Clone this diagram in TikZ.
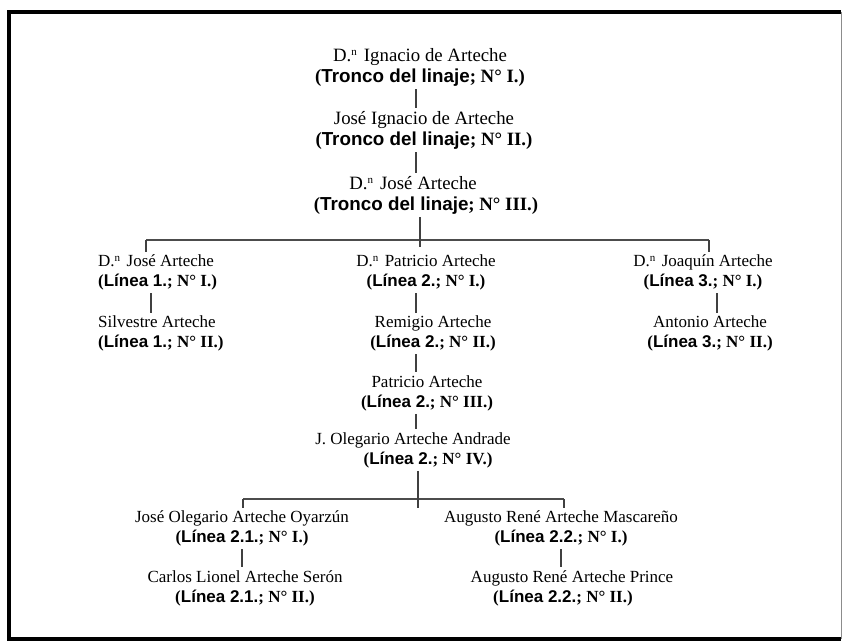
\documentclass[tikz,border=0pt]{standalone}
\usepackage{fontspec}
\setmainfont{Liberation Serif}
\newfontfamily\arialf{Liberation Sans}
\newcommand{\lin}[2]{\textbf{(}{\arialf\bfseries #1}\textbf{; N° #2)}}
\newcommand{\Dn}{D.\raisebox{0.6ex}{\fontsize{11}{11}\selectfont n}\hspace{0.38em}}
\begin{document}
\begin{tikzpicture}[x=1pt,y=-1pt,
  person/.style={align=center, inner sep=3pt, font=\fontsize{17}{20}\selectfont},
  trunk/.style={person, font=\fontsize{18.8}{21}\selectfont},
  personl/.style={person, align=left, anchor=west},
  link/.style={line width=1.5pt, draw=black!75},
  bar/.style={line width=1.6pt, draw=black!70},
  frame/.style={line width=3.5pt, draw=black}]
\useasboundingbox (0,0) rectangle (842,640);
\draw[frame] (841,12) -- (9,12) -- (9,639) -- (841,639);
\draw[line width=1pt, draw=black!45] (841,12) -- (841,639);

% trunk
\node[trunk] (n1) at (420,67) {\Dn Ignacio de Arteche\\\lin{Tronco del linaje}{I.}};
\node[trunk] (n2) at (424,130) {José Ignacio de Arteche\\\lin{Tronco del linaje}{II.}};
\node[trunk] (n3) at (426,195) {\Dn José Arteche\hspace*{26pt}\\\lin{Tronco del linaje}{III.}};

% line 1
\node[personl] (a1) at (95,272.5) {\Dn José Arteche\\\lin{Línea 1.}{I.}};
\node[personl] (a2) at (95,333.5) {Silvestre Arteche\\\lin{Línea 1.}{II.}};

% line 2
\node[person] (b1) at (426,272.5) {\Dn Patricio Arteche\\\lin{Línea 2.}{I.}};
\node[person] (b2) at (433,333.5) {Remigio Arteche\\\lin{Línea 2.}{II.}};
\node[person] (b3) at (427,393) {Patricio Arteche\\\lin{Línea 2.}{III.}};
\node[person] (b4) at (413,450) {J. Olegario Arteche Andrade\\\hspace*{30pt}\lin{Línea 2.}{IV.}};

% line 3
\node[person] (c1) at (703,272.5) {\Dn Joaquín Arteche\\\lin{Línea 3.}{I.}};
\node[person] (c2) at (710,333.5) {Antonio Arteche\\\lin{Línea 3.}{II.}};

% line 2.1 / 2.2
\node[person] (d1) at (242,528.5) {José Olegario Arteche Oyarzún\\\lin{Línea 2.1.}{I.}};
\node[person] (d2) at (245,588) {Carlos Lionel Arteche Serón\\\lin{Línea 2.1.}{II.}};
\node[person] (e1) at (561,528.5) {Augusto René Arteche Mascareño\\\lin{Línea 2.2.}{I.}};
\node[person] (e2) at (572,588) {Augusto René Arteche Prince\\\lin{Línea 2.2.}{II.}\hspace*{18pt}};

% trunk connectors
\coordinate (k1) at (416,0);
\draw[link] (n1.south -| k1) -- (n2.north -| k1);
\draw[link] (n2.south -| k1) -- (n3.north -| k1);

% first fork
\coordinate (j1) at (420,240);
\coordinate (t1L) at (146,240);
\coordinate (t1R) at (709,240);
\draw[bar] (t1L) -- (t1R);
\draw[link] (n3.south -| j1) -- (j1) -- ++(0,7);
\draw[link] (t1L) -- (t1L |- a1.north);
\draw[link] (t1R) -- (t1R |- c1.north);

% line 1
\coordinate (k2) at (151,0);
\draw[link] (a1.south -| k2) -- (a2.north -| k2);
% line 2
\draw[link] (b1.south -| k1) -- (b2.north -| k1);
\draw[link] (b2.south -| k1) -- (b3.north -| k1);
\draw[link] (b3.south -| k1) -- (b4.north -| k1);
% line 3
\coordinate (k3) at (717,0);
\draw[link] (c1.south -| k3) -- (c2.north -| k3);

% second fork
\coordinate (j2) at (418,499);
\coordinate (t2L) at (243,499);
\coordinate (t2R) at (564,499);
\draw[bar] (t2L) -- (t2R);
\draw[link] (b4.south -| j2) -- (j2) -- ++(0,9);
\draw[link] (t2L) -- (t2L |- d1.north);
\draw[link] (t2R) -- (t2R |- e1.north);

\coordinate (k4) at (242,0);
\draw[link] (d1.south -| k4) -- (d2.north -| k4);
\coordinate (k5) at (561,0);
\draw[link] (e1.south -| k5) -- (e2.north -| k5);
\end{tikzpicture}
\end{document}
